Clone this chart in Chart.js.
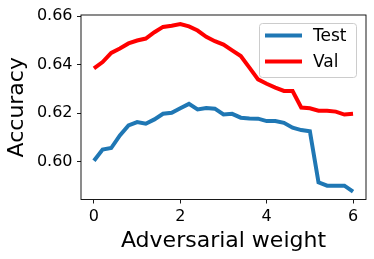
<!DOCTYPE html>
<html>
<head>
<meta charset="utf-8">
<script src="https://cdn.jsdelivr.net/npm/chart.js@4"></script>
<style>
  html, body { margin: 0; padding: 0; background: #fff; }
  #wrap { width: 374px; height: 259px; }
</style>
</head>
<body>
<div id="wrap"><canvas id="accChart" width="374" height="259"></canvas></div>
<script>
// Adversarial weight values (x axis)
const weights = [0, 0.2, 0.4, 0.6, 0.8, 1.0, 1.2, 1.4, 1.6, 1.8, 2.0, 2.2, 2.4, 2.6, 2.8, 3.0,
    3.2, 3.4, 3.6, 3.8, 4.0, 4.2, 4.4, 4.6, 4.8, 5.0, 5.2, 5.4, 5.6, 5.8, 6.0];

// Accuracy
const testAcc = [0.6005, 0.6051, 0.6057, 0.6109, 0.6150, 0.6164, 0.6157, 0.6175, 0.6198, 0.6202,
    0.6221, 0.6239, 0.6216, 0.6222, 0.6219, 0.6195, 0.6198, 0.6182, 0.6179, 0.6178,
    0.6168, 0.6168, 0.6161, 0.6141, 0.6131, 0.6126, 0.5916, 0.5902, 0.5902, 0.5902, 0.5877];
const valAcc = [0.6385, 0.6411, 0.6449, 0.6467, 0.6488, 0.6500, 0.6508, 0.6534, 0.6556, 0.6561,
    0.6568, 0.6558, 0.6541, 0.6515, 0.6497, 0.6483, 0.6459, 0.6436, 0.6388, 0.6340,
    0.6322, 0.6306, 0.6292, 0.6292, 0.6224, 0.6221, 0.6211, 0.6211, 0.6207, 0.6195, 0.6198];

const seriesNames = ['Test', 'Val'];
const seriesColors = ['#1f77b4', '#ff0000'];

// Tick labels
const xTicks = [0, 2, 4, 6];
const yTicks = [0.60, 0.62, 0.64, 0.66];

const FONT = "'DejaVu Sans', sans-serif";

// draw the four spines around the plot
const framePlugin = {
    id: 'frame',
    afterDraw(chart) {
        const { ctx, chartArea: a } = chart;
        ctx.save();
        ctx.strokeStyle = '#000';
        ctx.lineWidth = 0.9;
        ctx.strokeRect(a.left, a.top, a.right - a.left, a.bottom - a.top);
        ctx.restore();
    }
};

// matplotlib style legend box in the upper right corner
const boxLegendPlugin = {
    id: 'boxLegend',
    afterDraw(chart) {
        const { ctx } = chart;
        const x0 = 259.5, y0 = 23.5, w = 97, h = 54, r = 3;
        ctx.save();
        ctx.fillStyle = 'rgba(255,255,255,0.8)';
        ctx.strokeStyle = '#cccccc';
        ctx.lineWidth = 1;
        ctx.beginPath();
        ctx.roundRect(x0, y0, w, h, r);
        ctx.fill();
        ctx.stroke();
        ctx.font = '17px ' + FONT;
        ctx.textBaseline = 'middle';
        chart.data.datasets.forEach((ds, i) => {
            const cy = 35.5 + i * 26;
            ctx.strokeStyle = ds.borderColor;
            ctx.lineWidth = 4;
            ctx.beginPath();
            ctx.moveTo(265, cy);
            ctx.lineTo(302, cy);
            ctx.stroke();
            ctx.fillStyle = '#000';
            ctx.fillText(ds.label, 313, cy + 1);
        });
        ctx.restore();
    }
};

const ctx = document.getElementById('accChart').getContext('2d');
new Chart(ctx, {
    type: 'line',
    data: {
        datasets: [testAcc, valAcc].map((vals, i) => ({
            label: seriesNames[i],
            data: vals.map((v, j) => ({ x: weights[j], y: v })),
            borderColor: seriesColors[i],
            backgroundColor: seriesColors[i],
            borderWidth: 4,
            pointRadius: 0,
            tension: 0,
            fill: false
        }))
    },
    options: {
        responsive: false,
        devicePixelRatio: 1,
        animation: false,
        layout: { padding: { top: 15, right: 8, left: 0, bottom: 0 } },
        plugins: {
            legend: { display: false },
            tooltip: { enabled: false }
        },
        scales: {
            x: {
                type: 'linear',
                min: -0.3,
                max: 6.3,
                afterBuildTicks: scale => { scale.ticks = xTicks.map(v => ({ value: v })); },
                afterFit: scale => { scale.height = 59.5; },
                border: { display: false },
                grid: { drawOnChartArea: false, drawTicks: true, tickLength: 4, color: '#000', lineWidth: 0.9 },
                ticks: { color: '#000', font: { family: FONT, size: 16 }, padding: 3.5, maxRotation: 0 },
                title: { display: true, text: 'Adversarial weight', color: '#000', font: { family: FONT, size: 22 }, padding: { top: 0, bottom: 4.3 } }
            },
            y: {
                min: 0.5845,
                max: 0.6605,
                afterBuildTicks: scale => { scale.ticks = yTicks.map(v => ({ value: v })); },
                afterFit: scale => { scale.width = 81; },
                border: { display: false },
                grid: { drawOnChartArea: false, drawTicks: true, tickLength: 4, color: '#000', lineWidth: 0.9 },
                ticks: { color: '#000', font: { family: FONT, size: 16 }, padding: 4.5, callback: v => v.toFixed(2) },
                title: { display: true, text: 'Accuracy', color: '#000', font: { family: FONT, size: 22 }, padding: { top: 4.5, bottom: 0 } }
            }
        }
    },
    plugins: [framePlugin, boxLegendPlugin]
});
</script>
</body>
</html>
